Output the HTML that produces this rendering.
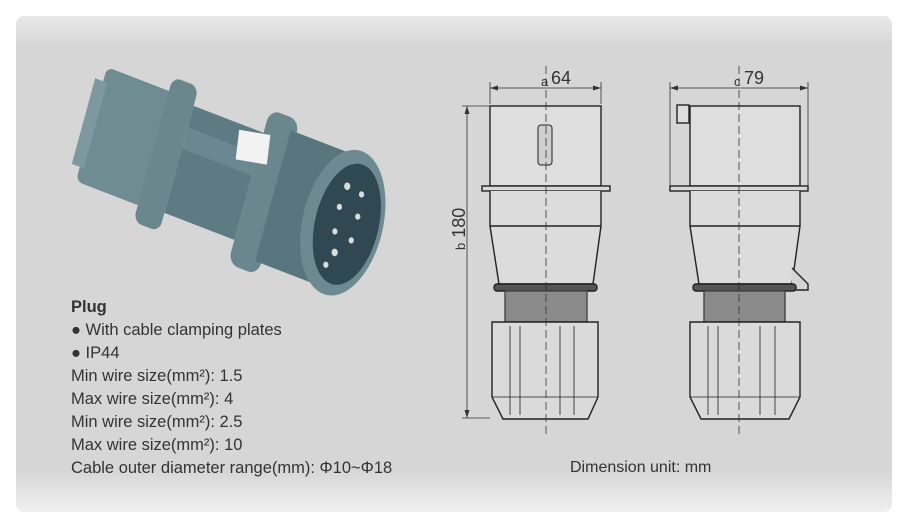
<!DOCTYPE html>
<html><head><meta charset="utf-8"><style>
html,body{margin:0;padding:0;background:#fff;width:910px;height:528px;overflow:hidden}
.card{position:absolute;left:16px;top:16px;width:876px;height:496px;border-radius:8px;
background:linear-gradient(to bottom,#e9e9e9 0px,#d6d6d6 30px,#d6d6d6 455px,#f0f0f0 496px)}
.txt{position:absolute;left:71px;font-family:"Liberation Sans",sans-serif;font-size:16.5px;color:#333;line-height:23px}
svg{position:absolute;left:0;top:0}
</style></head><body>
<div class="card"></div>
<div class="txt" style="top:296px">
<div style="font-weight:bold">Plug</div>
<div>● With cable clamping plates</div>
<div>● IP44</div>
<div>Min wire size(mm²): 1.5</div>
<div>Max wire size(mm²): 4</div>
<div>Min wire size(mm²): 2.5</div>
<div>Max wire size(mm²): 10</div>
<div>Cable outer diameter range(mm): Φ10~Φ18</div>
</div>
<div class="txt" style="left:570px;top:456px;font-size:16px">Dimension unit: mm</div>
<svg width="910" height="528" viewBox="0 0 910 528">
<!-- plug photo -->
<g transform="translate(232 180) scale(1.05 1.25) translate(-230 -177)">
<g transform="rotate(18 230 180)">
 <rect x="88" y="128" width="70" height="96" rx="6" fill="#6f8c93"/>
 <rect x="80" y="140" width="12" height="72" fill="#7d989f"/>
 <rect x="150" y="116" width="26" height="122" rx="8" fill="#6a878e"/>
 <rect x="176" y="132" width="70" height="90" fill="#5e7b83"/>
 <rect x="176" y="150" width="70" height="18" fill="#7794a0" opacity=".5"/>
 <rect x="246" y="112" width="30" height="130" rx="10" fill="#6a878e"/>
 <rect x="270" y="122" width="70" height="110" fill="#59767e"/>
 <rect x="225" y="134" width="30" height="24" fill="#f2f2f2" transform="rotate(-10 240 146)"/>
 <ellipse cx="340" cy="177" rx="38" ry="60" fill="#6d8a91"/>
 <ellipse cx="344" cy="177" rx="30" ry="50" fill="#2f4851"/>
 <g fill="#d8dcdc"><circle cx="335" cy="148" r="3"/><circle cx="350" cy="150" r="2.5"/><circle cx="333" cy="166" r="2.5"/><circle cx="352" cy="168" r="2.5"/><circle cx="335" cy="186" r="2.5"/><circle cx="352" cy="188" r="2.5"/><circle cx="340" cy="202" r="3"/><circle cx="335" cy="214" r="2.5"/></g>
</g>
</g>
<!-- drawings -->
<g fill="none" stroke="#222" stroke-width="1.4">
 <rect x="490" y="106" width="111" height="80" fill="#dedede"/>
 <rect x="482" y="186" width="128" height="5" fill="#d8d8d8"/>
 <path d="M490 191V226H601V191M490 226L499 284H593L601 226" fill="#dcdcdc"/>
 <rect x="494" y="284" width="103" height="7" rx="3" fill="#555"/>
 <rect x="505" y="291" width="82" height="31" fill="#8a8a8a" stroke="#444"/>
 <path d="M492 322H598V397L588 419H503L492 397Z" fill="#dadada"/>
 <path d="M510 326V415M520 326V415M560 326V415M574 326V415M492 397H598" stroke-width="0.8"/>
 <rect x="538" y="125" width="14" height="40" rx="3" stroke-width="1" fill="#cfcfcf"/>
 <rect x="690" y="106" width="110" height="80" fill="#dedede"/>
 <rect x="677" y="105" width="12" height="18" fill="#dedede"/>
 <rect x="670" y="186" width="138" height="5" fill="#d8d8d8"/>
 <path d="M690 191V226H800V191M690 226L699 284H792L800 226" fill="#dcdcdc"/>
 <path d="M792 268L808 284V290H792" fill="#d4d4d4"/>
 <rect x="693" y="284" width="103" height="7" rx="3" fill="#555"/>
 <rect x="704" y="291" width="81" height="31" fill="#8a8a8a" stroke="#444"/>
 <path d="M690 322H800V397L789 419H701L690 397Z" fill="#dadada"/>
 <path d="M708 326V415M718 326V415M760 326V415M775 326V415M690 397H800" stroke-width="0.8"/>
</g>
<g stroke="#333" stroke-width="0.8" fill="none">
 <path d="M546 66V438M739 66V438" stroke-dasharray="8 4"/>
 <path d="M490 82V104M601 82V104M670 82V186M808 82V186M462 106H490M462 418H490"/>
 <path d="M490 88H601M670 88H808M467 106V418"/>
</g>
<g fill="#333">
 <path d="M490 88l8-2.5v5zM601 88l-8-2.5v5zM670 88l8-2.5v5zM808 88l-8-2.5v5zM467 106l-2.5 8h5zM467 418l-2.5-8h5z"/>
</g>
<g font-family="Liberation Sans,sans-serif" fill="#333">
 <text x="541" y="86" font-size="13">a</text><text x="551" y="84" font-size="18">64</text>
 <text x="734" y="86" font-size="13">c</text><text x="744" y="84" font-size="18">79</text>
 <text transform="translate(465 250) rotate(-90)" font-size="18"><tspan font-size="13">b</tspan> 180</text>
</g>
</svg>
</body></html>
